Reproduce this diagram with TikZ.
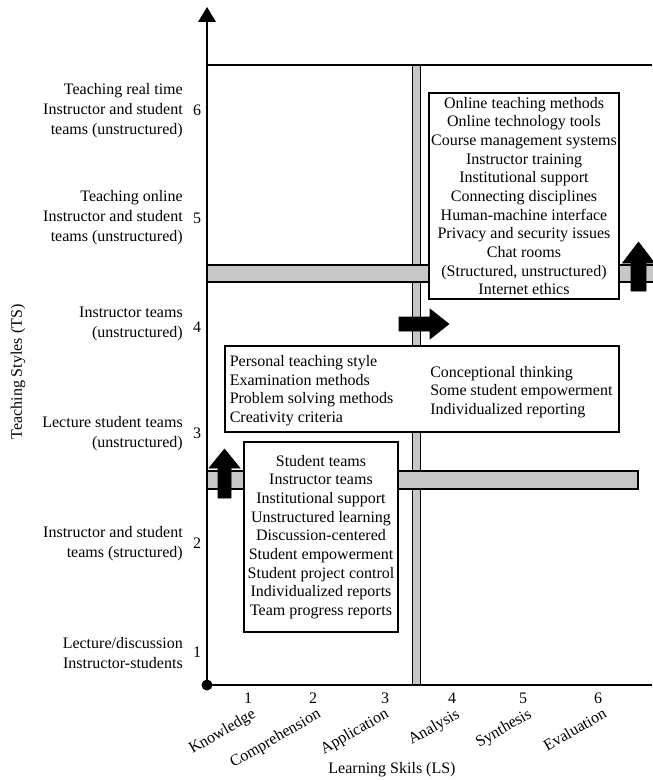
\documentclass[tikz,border=0pt]{standalone}
\usepackage{fontspec}
\setmainfont{Liberation Serif}
\begin{document}
\begin{tikzpicture}[x=0.75pt,y=-0.75pt,
  every node/.style={font=\fontsize{12}{14}\selectfont, inner sep=0pt},
  axisline/.style={line width=1.5pt},
  bar/.style={draw=black, line width=1.1pt, fill=black!22},
  infobox/.style={draw=black, line width=1.1pt, fill=white, align=center},
  fatarrow/.style={fill=black, draw=black, line width=0.4pt},
  leftlab/.style={anchor=east, align=right, font=\fontsize{12}{15}\selectfont},
  tick/.style={anchor=center},
  skill/.style={rotate=30, anchor=north east}]
\useasboundingbox (0,0) rectangle (652,780);
\fill[white] (0,0) rectangle (652,780);

% gray bars
\draw[bar] (412.5,65) rectangle (420.5,685);
\draw[bar] (207,265) rectangle (660,282);
\draw[bar] (207,471) rectangle (638,489);

% boxes
\node[infobox, minimum width=142.5pt, minimum height=154.5pt] (ub) at (524,196)
 {Online teaching methods\\Online technology tools\\Course management systems\\Instructor training\\Institutional support\\Connecting disciplines\\Human-machine interface\\Privacy and security issues\\Chat rooms\\(Structured, unstructured)\\Internet ethics};
\node[draw=black, line width=1.1pt, fill=white, minimum width=295.5pt, minimum height=64.5pt] (mb) at (422,389) {};
\node[anchor=north west, align=left] (mbl) at (229.5,355)
 {Personal teaching style\\Examination methods\\Problem solving methods\\Creativity criteria};
\node[anchor=west, align=left] (mbr) at (430,392)
 {Conceptional thinking\\Some student empowerment\\Individualized reporting};
\node[infobox, minimum width=115.5pt, minimum height=142.5pt] (lb) at (321,537)
 {Student teams\\Instructor teams\\Institutional support\\Unstructured learning\\Discussion-centered\\Student empowerment\\Student project control\\Individualized reports\\Team progress reports};

% fat arrows
\fill[fatarrow] (218,498) -- (218,468) -- (209,468) -- (224.5,449) -- (240,468) -- (231,468) -- (231,498) -- cycle;
\fill[fatarrow] (631,291) -- (631,263) -- (622.5,263) -- (638.5,242) -- (654.5,263) -- (646,263) -- (646,291) -- cycle;
\fill[fatarrow] (399,317) -- (430,317) -- (430,309) -- (449,324) -- (430,339) -- (430,331) -- (399,331) -- cycle;

% axes
\coordinate (O) at (207,685);
\coordinate (Ytop) at (207,22);
\coordinate (Xend) at (652,685);
\coordinate (TL) at (207,65);
\coordinate (TR) at (652,65);
\draw[axisline] (O) -- (Ytop);
\draw[axisline] (O) -- (Xend);
\draw[line width=1.3pt] (TL) -- (TR);
\fill (198,22) -- (207,7) -- (216,22) -- cycle;
\fill (O) circle (5.5);

% y ticks
\node[tick] (y6) at (197,110) {6};
\node[tick] (y5) at (197,218) {5};
\node[tick] (y4) at (197,327) {4};
\node[tick] (y3) at (197,433) {3};
\node[tick] (y2) at (197,543) {2};
\node[tick] (y1) at (197,652) {1};

\node[leftlab] (l6) at (183,111) {Teaching real time\\Instructor and student\\teams (unstructured)};
\node[leftlab] (l5) at (183,218) {Teaching online\\Instructor and student\\teams (unstructured)};
\node[leftlab] (l4) at (183,324) {Instructor teams\\(unstructured)};
\node[leftlab] (l3) at (183,434) {Lecture student teams\\(unstructured)};
\node[leftlab] (l2) at (183,544) {Instructor and student\\teams (structured)};
\node[leftlab] (l1) at (183,653) {Lecture/discussion\\Instructor-students};

\node[rotate=90] (ylab) at (18,372) {Teaching Styles (TS)};

% x ticks
\node[tick] (x1) at (248,698) {1};
\node[tick] (x2) at (313,698) {2};
\node[tick] (x3) at (385,698) {3};
\node[tick] (x4) at (452,698) {4};
\node[tick] (x5) at (523,698) {5};
\node[tick] (x6) at (598,698) {6};

\node[skill] (s1) at (251,707) {Knowledge};
\node[skill] (s2) at (316,707) {Comprehension};
\node[skill] (s3) at (384,707) {Application};
\node[skill] (s4) at (455,707) {Analysis};
\node[skill] (s5) at (527,707) {Synthesis};
\node[skill] (s6) at (602,707) {Evaluation};

\node (xlab) at (392,770) {Learning Skils (LS)};
\end{tikzpicture}
\end{document}
